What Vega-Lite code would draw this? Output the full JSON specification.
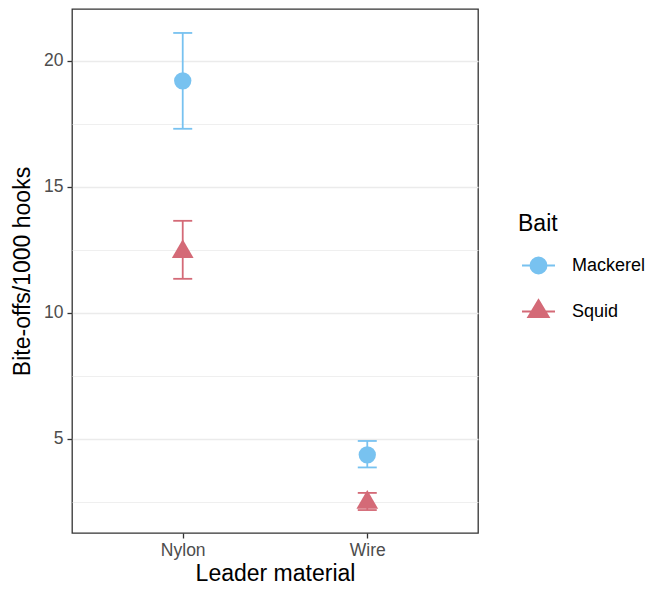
{
  "$schema": "https://vega.github.io/schema/vega-lite/v6.json",
  "width": 406,
  "height": 524,
  "autosize": "none",
  "padding": {"left": 72, "top": 9, "right": 173, "bottom": 60},
  "background": "white",
  "data": {"values": [
    {"leader": "Nylon", "bait": "Mackerel", "mean": 19.2, "lo": 17.3, "hi": 21.1},
    {"leader": "Nylon", "bait": "Squid", "mean": 12.55, "lo": 11.35, "hi": 13.65},
    {"leader": "Wire", "bait": "Mackerel", "mean": 4.37, "lo": 3.87, "hi": 4.92},
    {"leader": "Wire", "bait": "Squid", "mean": 2.6, "lo": 2.18, "hi": 2.86}
  ]},
  "encoding": {
    "x": {
      "field": "leader", "type": "nominal",
      "scale": {"type": "point", "padding": 0.6},
      "title": "Leader material",
      "axis": {"labelAngle": 0, "tickSize": 5, "labelPadding": 3, "titlePadding": 4}
    }
  },
  "layer": [
    {
      "transform": [{"filter": "datum.mean < 0"}],
      "mark": {"type": "point", "filled": false, "opacity": 1, "strokeWidth": 1.8},
      "encoding": {
        "y": {
          "field": "mean", "type": "quantitative",
          "title": "Bite-offs/1000 hooks",
          "scale": {"domain": [1.27, 22.05], "nice": false, "zero": false},
          "axis": {
            "values": [2.5, 5, 7.5, 10, 12.5, 15, 17.5, 20],
            "labelExpr": "datum.value % 5 === 0 ? datum.label : ''",
            "tickSize": {"condition": {"test": "datum.value % 5 === 0", "value": 5}, "value": 0},
            "gridWidth": {"condition": {"test": "datum.value % 5 === 0", "value": 1.5}, "value": 0.8},
            "labelPadding": 4,
            "titlePadding": 9
          }
        },
        "color": {
          "field": "bait", "type": "nominal", "title": "Bait",
          "scale": {"domain": ["Mackerel", "Squid"], "range": ["#78C2F0", "#D46A77"]}
        },
        "shape": {
          "field": "bait", "type": "nominal", "title": "Bait",
          "scale": {
            "domain": ["Mackerel", "Squid"],
            "range": [
              "M-1,0L1,0M-0.49,0A0.49,0.49,0,1,1,0.49,0A0.49,0.49,0,1,1,-0.49,0M-0.406,0A0.406,0.406,0,1,1,0.406,0A0.406,0.406,0,1,1,-0.406,0M-0.32,0A0.32,0.32,0,1,1,0.32,0A0.32,0.32,0,1,1,-0.32,0M-0.236,0A0.236,0.236,0,1,1,0.236,0A0.236,0.236,0,1,1,-0.236,0M-0.15,0A0.15,0.15,0,1,1,0.15,0A0.15,0.15,0,1,1,-0.15,0M-0.067,0A0.067,0.067,0,1,1,0.067,0A0.067,0.067,0,1,1,-0.067,0",
              "M-1,0L1,0M0,-0.697L0.624,0.333L-0.624,0.333ZM0,-0.558L0.499,0.267L-0.499,0.267ZM0,-0.418L0.374,0.2L-0.374,0.2ZM0,-0.279L0.25,0.133L-0.25,0.133ZM0,-0.139L0.125,0.067L-0.125,0.067Z"
            ]
          }
        }
      }
    },
    {
      "mark": {"type": "rule", "strokeWidth": 1.8},
      "encoding": {
        "y": {"field": "lo", "type": "quantitative"},
        "y2": {"field": "hi"},
        "color": {"field": "bait", "type": "nominal", "title": "Bait"}
      }
    },
    {
      "mark": {"type": "tick", "size": 19, "thickness": 1.8, "opacity": 1},
      "encoding": {
        "y": {"field": "lo", "type": "quantitative"},
        "color": {"field": "bait", "type": "nominal", "title": "Bait"}
      }
    },
    {
      "mark": {"type": "tick", "size": 19, "thickness": 1.8, "opacity": 1},
      "encoding": {
        "y": {"field": "hi", "type": "quantitative"},
        "color": {"field": "bait", "type": "nominal", "title": "Bait"}
      }
    },
    {
      "transform": [{"filter": "datum.bait === 'Mackerel'"}],
      "mark": {"type": "point", "filled": true, "opacity": 1, "shape": "circle", "size": 300},
      "encoding": {
        "y": {"field": "mean", "type": "quantitative"},
        "color": {"field": "bait", "type": "nominal", "title": "Bait"}
      }
    },
    {
      "transform": [{"filter": "datum.bait === 'Squid'"}],
      "mark": {"type": "point", "filled": true, "opacity": 1, "shape": "triangle-up", "size": 470},
      "encoding": {
        "y": {"field": "mean", "type": "quantitative"},
        "color": {"field": "bait", "type": "nominal", "title": "Bait"}
      }
    }
  ],
  "config": {
    "font": "Liberation Sans",
    "view": {"stroke": "#333333", "strokeWidth": 1.3},
    "axis": {
      "domain": false,
      "gridColor": "#EBEBEB",
      "gridWidth": 1.5,
      "tickColor": "#333333",
      "tickWidth": 1.3,
      "labelColor": "#4D4D4D",
      "labelFont": "Liberation Sans",
      "labelFontSize": 17.5,
      "titleFont": "Liberation Sans",
      "titleFontSize": 23,
      "titleFontWeight": "normal",
      "titleColor": "black"
    },
    "legend": {
      "orient": "none", "legendX": 446, "legendY": 204,
      "titlePadding": 12, "rowPadding": 16, "labelOffset": 16, "symbolOffset": 3,
      "symbolSize": 1089, "symbolOpacity": 1, "symbolStrokeWidth": 1.8,
      "titleFont": "Liberation Sans",
      "titleFontSize": 23,
      "titleFontWeight": "normal",
      "titleColor": "black",
      "labelFont": "Liberation Sans",
      "labelFontSize": 18,
      "labelColor": "black"
    }
  }
}
